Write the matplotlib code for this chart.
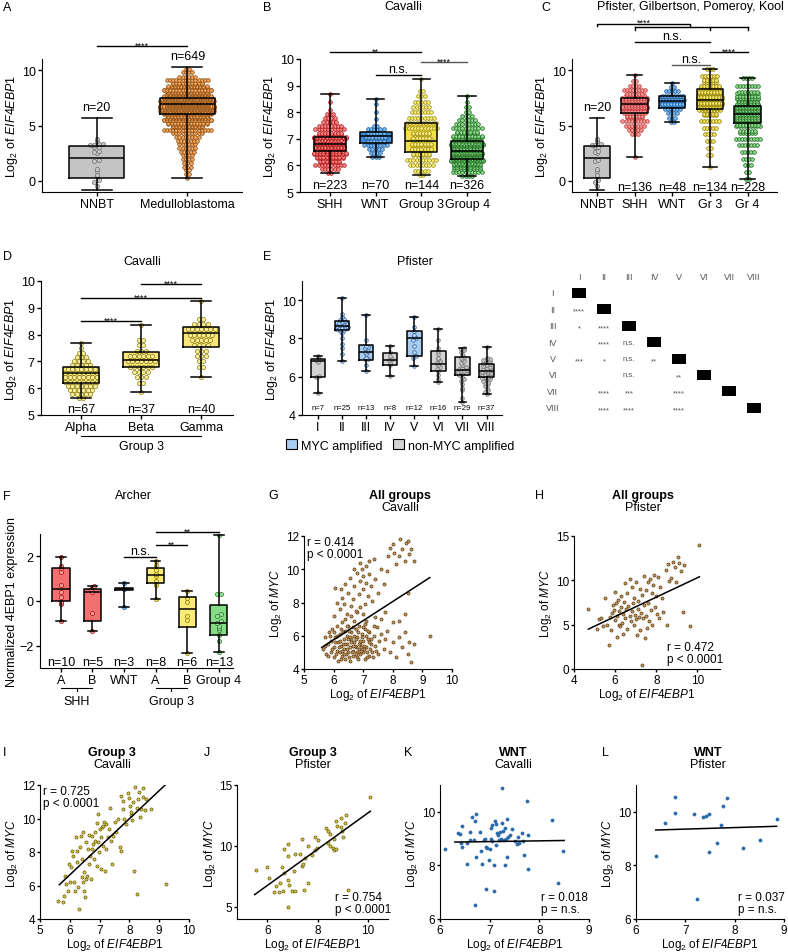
import matplotlib

matplotlib.use("Agg")
import matplotlib.pyplot as plt
import numpy as np
from matplotlib.patches import Patch

plt.rcParams["font.family"] = ["Liberation Sans", "DejaVu Sans"]
plt.rcParams["mathtext.fontset"] = "custom"
plt.rcParams["mathtext.rm"] = "Liberation Sans"
plt.rcParams["mathtext.it"] = "Liberation Sans:italic"
plt.rcParams["mathtext.bf"] = "Liberation Sans:bold"

W, H = 788, 953
YLAB = r"Log$_2$ of $\mathit{EIF4EBP1}$"
MYCLAB = r"Log$_2$ of $\mathit{MYC}$"

# ---------------- A: NNBT vs medulloblastoma ----------------
A_cats = ["NNBT", "Medulloblastoma"]
A_q1, A_med, A_q3 = [0.3, 6.0], [2.1, 6.9], [3.15, 7.5]
A_lo, A_hi = [-0.8, 0.3], [5.7, 10.3]
A_n = ["n=20", "n=649"]
A_nnbt = [3.8, 3.6, 3.3, 3.3, 3.2, 3.2, 3.1, 3.1, 2.7, 2.6, 2.5, 1.9, 1.8, 1.1, 0.9, 0.5, 0.4, 0.1, -0.1, -0.5]
A_mb_lv = [0.3, 0.6, 1.0, 1.3, 1.6, 2.0, 2.3, 2.6, 3.0, 3.3, 3.6, 4.0, 4.3, 4.6, 4.9, 5.2, 5.5, 5.8, 6.1, 6.4,
           6.7, 7.0, 7.3, 7.6, 7.9, 8.2, 8.5, 8.8, 9.1, 9.4, 9.8, 10.1]
A_mb_ct = [1, 2, 2, 3, 3, 4, 4, 5, 6, 6, 7, 8, 10, 16, 20, 26, 32, 40, 48, 52,
           54, 56, 52, 48, 40, 32, 26, 20, 14, 6, 4, 2]

# ---------------- B: Cavalli subgroups ----------------
B_cats = ["SHH", "WNT", "Group 3", "Group 4"]
B_q1, B_med, B_q3 = [6.55, 6.85, 6.5, 6.25], [6.8, 7.1, 6.9, 6.55], [7.05, 7.25, 7.6, 6.9]
B_lo, B_hi = [5.7, 6.3, 5.65, 5.6], [8.7, 8.5, 9.25, 8.6]
B_n = ["n=223", "n=70", "n=144", "n=326"]
B_lv = [
    [5.7, 5.85, 6.0, 6.15, 6.3, 6.45, 6.6, 6.75, 6.9, 7.05, 7.2, 7.35, 7.5, 7.65, 7.8, 7.95, 8.1, 8.4, 8.7],
    [6.3, 6.45, 6.6, 6.75, 6.9, 7.05, 7.2, 7.35, 7.5, 7.75, 8.0, 8.3, 8.5],
    [5.65, 5.8, 6.0, 6.2, 6.4, 6.6, 6.8, 7.0, 7.2, 7.4, 7.6, 7.8, 8.0, 8.2, 8.4, 8.6, 8.8, 9.25],
    [5.6, 5.75, 5.9, 6.05, 6.2, 6.35, 6.5, 6.65, 6.8, 6.95, 7.1, 7.25, 7.4, 7.55, 7.7, 7.85, 8.0, 8.2, 8.4, 8.6],
]
B_ct = [
    [2, 6, 10, 14, 18, 22, 26, 28, 26, 22, 16, 10, 8, 5, 4, 3, 1, 1, 1],
    [3, 4, 5, 8, 12, 14, 12, 6, 2, 1, 1, 1, 1],
    [2, 5, 8, 10, 12, 14, 14, 13, 12, 11, 10, 9, 7, 6, 5, 3, 2, 1],
    [4, 10, 18, 26, 32, 36, 38, 36, 32, 26, 20, 14, 10, 8, 6, 4, 2, 2, 1, 1],
]

# ---------------- C: Pfister, Gilbertson, Pomeroy, Kool ----------------
C_cats = ["NNBT", "SHH", "WNT", "Gr 3", "Gr 4"]
C_q1, C_med, C_q3 = [0.3, 6.1, 6.6, 6.5, 5.2], [2.1, 6.9, 7.2, 7.3, 6.0], [3.15, 7.5, 7.7, 8.3, 6.8]
C_lo, C_hi = [-0.8, 2.2, 5.3, 1.3, 0.2], [5.7, 9.6, 8.8, 10.1, 9.3]
C_n = ["n=20", "n=136", "n=48", "n=134", "n=228"]
C_lv = [
    [2.2, 4.2, 4.6, 5.0, 5.4, 5.8, 6.2, 6.6, 7.0, 7.4, 7.8, 8.2, 8.6, 9.0, 9.6],
    [5.3, 5.7, 6.1, 6.5, 6.9, 7.3, 7.7, 8.1, 8.5, 8.8],
    [1.3, 2.3, 3.0, 3.6, 4.2, 4.8, 5.4, 6.0, 6.5, 7.0, 7.5, 8.0, 8.5, 9.0, 9.5, 10.1],
    [0.2, 0.8, 1.4, 2.0, 2.6, 3.2, 3.8, 4.4, 5.0, 5.5, 6.0, 6.5, 7.0, 7.5, 8.0, 8.6, 9.3],
]
C_ct = [
    [1, 3, 5, 7, 9, 12, 15, 18, 20, 18, 13, 8, 4, 2, 1],
    [2, 3, 4, 6, 8, 9, 8, 5, 2, 1],
    [1, 2, 2, 3, 4, 5, 7, 10, 15, 18, 18, 16, 14, 10, 6, 3],
    [2, 2, 3, 4, 5, 7, 9, 12, 17, 24, 30, 32, 30, 24, 15, 8, 4],
]

# ---------------- D: Cavalli group 3 subtypes ----------------
D_cats = ["Alpha", "Beta", "Gamma"]
D_q1, D_med, D_q3 = [6.2, 6.8, 7.55], [6.55, 7.05, 8.05], [6.8, 7.35, 8.3]
D_lo, D_hi = [5.65, 5.85, 6.4], [7.7, 8.35, 9.25]
D_n = ["n=67", "n=37", "n=40"]
D_lv = [
    [5.65, 5.8, 5.95, 6.1, 6.25, 6.4, 6.55, 6.7, 6.85, 7.0, 7.15, 7.3, 7.5, 7.7],
    [5.85, 6.2, 6.4, 6.6, 6.8, 7.0, 7.2, 7.4, 7.6, 7.8, 8.35],
    [6.4, 6.8, 7.0, 7.2, 7.4, 7.6, 7.8, 8.0, 8.2, 8.4, 8.6, 9.25],
]
D_ct = [
    [2, 5, 6, 7, 8, 8, 8, 7, 5, 4, 3, 2, 1, 1],
    [1, 2, 3, 4, 6, 7, 6, 3, 2, 2, 1],
    [1, 2, 2, 3, 3, 4, 5, 6, 7, 4, 2, 1],
]

# ---------------- E: Pfister subtypes I-VIII ----------------
E_cats = ["I", "II", "III", "IV", "V", "VI", "VII", "VIII"]
E_myc = [False, True, True, False, True, False, False, False]
E_q1 = [6.0, 8.45, 6.85, 6.6, 7.1, 6.3, 6.1, 6.0]
E_med = [6.8, 8.65, 7.3, 6.85, 8.0, 6.65, 6.35, 6.3]
E_q3 = [6.9, 8.9, 7.65, 7.25, 8.4, 7.35, 7.05, 6.65]
E_lo = [5.15, 6.8, 6.3, 6.05, 6.55, 5.7, 4.7, 5.1]
E_hi = [7.1, 10.1, 9.2, 7.6, 9.1, 8.5, 7.5, 7.55]
E_n = ["n=7", "n=25", "n=13", "n=8", "n=12", "n=16", "n=29", "n=37"]
E_vals = [
    [7.1, 6.95, 6.85, 6.75, 6.05, 6.0, 5.15],
    [10.1, 9.3, 9.1, 9.0, 8.95, 8.9, 8.85, 8.8, 8.75, 8.7, 8.7, 8.65, 8.6, 8.6, 8.55, 8.5, 8.5, 8.45,
     8.4, 8.3, 8.0, 7.7, 7.5, 7.2, 6.8],
    [9.2, 7.9, 7.6, 7.55, 7.5, 7.35, 7.3, 7.2, 7.0, 6.95, 6.9, 6.6, 6.3],
    [7.6, 7.3, 7.1, 6.9, 6.85, 6.7, 6.6, 6.05],
    [9.1, 8.6, 8.4, 8.2, 8.1, 8.0, 7.9, 7.6, 7.3, 7.1, 7.0, 6.55],
    [8.5, 7.9, 7.5, 7.35, 7.2, 7.0, 6.9, 6.8, 6.7, 6.6, 6.5, 6.4, 6.3, 6.1, 5.9, 5.7],
    [7.5, 7.45, 7.4, 7.3, 7.2, 7.05, 7.0, 6.9, 6.8, 6.7, 6.6, 6.5, 6.45, 6.4, 6.35, 6.3, 6.3, 6.25,
     6.2, 6.15, 6.1, 6.0, 5.9, 5.8, 5.6, 5.4, 5.3, 4.9, 4.7],
    [7.55, 7.0, 6.95, 6.9, 6.85, 6.8, 6.75, 6.7, 6.65, 6.6, 6.55, 6.5, 6.45, 6.4, 6.35, 6.3, 6.3, 6.25,
     6.2, 6.2, 6.15, 6.1, 6.05, 6.0, 6.0, 5.95, 5.9, 5.85, 5.8, 5.7, 5.6, 5.5, 5.4, 5.3, 5.2, 5.1, 5.65],
]

# pairwise significance table for E
M_row = [1, 2, 2, 3, 3, 4, 4, 4, 4, 5, 5, 6, 6, 6, 7, 7, 7]
M_col = [0, 0, 1, 1, 2, 0, 1, 2, 3, 2, 4, 1, 2, 4, 1, 2, 4]
M_txt = ["****", "*", "****", "****", "n.s.", "***", "*", "n.s.", "**", "n.s.", "**",
         "****", "***", "****", "****", "****", "****"]

# ---------------- F: Archer ----------------
F_cats = ["A", "B", "WNT", "A", "B", "Group 4"]
F_q1 = [0.02, -0.9, 0.48, 0.8, -1.15, -1.5]
F_med = [0.55, 0.4, 0.55, 1.15, -0.35, -1.0]
F_q3 = [1.5, 0.55, 0.6, 1.5, 0.2, -0.2]
F_lo = [-0.9, -1.35, -0.25, 0.1, -2.35, -2.3]
F_hi = [1.95, 0.65, 0.8, 1.8, 0.45, 2.95]
F_n = ["n=10", "n=5", "n=3", "n=8", "n=6", "n=13"]
F_vals = [
    [1.95, 1.55, 1.5, 1.3, 0.7, 0.4, 0.2, -0.05, -0.15, -0.9],
    [0.65, 0.55, 0.4, -0.55, -1.35],
    [0.8, 0.55, -0.25],
    [1.8, 1.6, 1.4, 1.2, 1.1, 0.9, 0.7, 0.1],
    [0.45, 0.15, -0.05, -0.65, -0.85, -2.35],
    [2.95, 0.3, 0.3, -0.6, -0.65, -0.9, -1.0, -1.1, -1.2, -1.3, -1.5, -1.8, -2.3],
]

# ---------------- G-L: EIF4EBP1 vs MYC scatter ----------------
G_xy = np.array([
    [5.65, 5.2], [5.7, 5.9], [5.75, 4.9], [5.8, 5.5], [5.85, 6.2], [5.9, 5.0], [5.9, 5.7], [5.95, 6.4],
    [6.0, 4.7], [6.0, 5.3], [6.05, 5.9], [6.1, 6.6], [6.1, 5.1], [6.15, 4.5], [6.15, 5.6], [6.2, 6.1],
    [6.2, 5.0], [6.25, 5.4], [6.3, 6.8], [6.3, 4.8], [6.35, 5.8], [6.35, 5.2], [6.4, 6.3], [6.4, 4.6],
    [6.45, 5.5], [6.45, 6.0], [6.5, 5.0], [6.5, 6.6], [6.55, 5.3], [6.55, 4.5], [6.6, 5.8], [6.6, 6.2],
    [6.65, 5.1], [6.65, 4.8], [6.7, 5.6], [6.7, 6.9], [6.75, 5.3], [6.75, 6.4], [6.8, 4.7], [6.8, 5.9],
    [6.85, 5.2], [6.85, 6.6], [6.9, 5.5], [6.9, 4.9], [6.95, 6.1], [7.0, 5.0], [7.0, 5.7], [7.05, 6.4],
    [7.05, 4.6], [7.1, 5.3], [7.1, 6.9], [7.15, 5.8], [7.2, 4.8], [7.2, 6.2], [7.25, 5.5], [7.3, 5.0],
    [7.35, 6.0], [7.4, 5.4], [7.45, 6.5], [7.5, 4.9], [7.55, 5.7], [7.6, 6.1], [7.7, 5.2], [7.75, 5.8],
    [7.8, 6.3], [7.9, 5.0], [8.0, 5.6], [8.1, 4.7], [8.2, 5.9], [8.3, 5.3], [8.4, 6.2], [8.5, 4.9],
    [8.55, 5.6], [8.6, 4.4], [8.7, 5.5], [9.25, 6.0], [8.0, 6.8], [7.6, 7.0],
    [6.05, 5.6], [6.12, 6.0], [6.22, 5.7], [6.28, 5.1], [6.33, 6.2], [6.38, 5.5], [6.42, 4.9], [6.48, 5.8],
    [6.52, 6.3], [6.58, 5.6], [6.62, 5.0], [6.68, 6.0], [6.72, 5.4], [6.78, 5.0], [6.82, 6.2], [6.88, 5.7],
    [6.92, 5.3], [6.98, 6.5], [7.02, 5.4], [7.08, 6.0], [7.12, 5.0], [7.18, 5.6],
    [5.72, 5.4], [5.82, 4.8], [5.88, 6.0], [5.96, 5.2], [6.02, 6.2], [6.08, 4.9], [6.18, 5.3], [6.24, 6.4],
    [6.26, 4.6], [6.32, 5.5], [6.36, 4.9], [6.44, 5.2], [6.46, 6.6], [6.52, 4.7], [6.56, 5.9], [6.64, 5.4],
    [6.66, 6.5], [6.74, 4.9], [6.76, 5.8], [6.84, 4.6], [6.86, 5.5], [6.94, 5.1], [6.96, 5.9], [7.04, 5.2],
    [7.06, 6.7], [7.14, 4.7], [7.16, 6.3], [7.22, 5.2], [7.28, 5.8], [7.32, 4.7], [7.38, 6.6], [7.42, 5.1],
    [6.6, 7.2], [6.8, 7.4], [7.0, 7.3], [6.4, 7.0], [6.9, 10.4], [7.2, 10.5], [6.7, 10.0], [7.4, 7.1],
    [6.0, 7.2], [6.05, 8.9], [6.1, 8.0], [6.2, 7.6], [6.25, 8.8], [6.3, 8.3], [6.35, 7.9], [6.4, 9.1],
    [6.45, 7.3], [6.5, 8.6], [6.55, 9.5], [6.6, 7.8], [6.65, 8.2], [6.7, 9.0], [6.75, 7.5], [6.8, 9.8],
    [6.85, 8.5], [6.9, 9.3], [6.9, 7.7], [6.95, 10.0], [7.0, 8.8], [7.0, 9.6], [7.05, 7.9], [7.1, 9.2],
    [7.1, 10.2], [7.15, 8.4], [7.2, 9.7], [7.25, 9.0], [7.3, 8.1], [7.35, 10.6], [7.4, 9.4], [7.5, 8.6],
    [7.6, 10.0], [7.7, 9.1], [7.75, 7.4], [7.8, 9.9], [7.85, 10.8], [7.9, 11.3], [8.0, 11.5], [8.05, 11.0],
    [8.1, 10.3], [8.2, 10.8], [8.25, 11.8], [8.3, 11.2], [8.4, 10.5], [8.45, 11.6], [8.5, 11.7], [8.55, 10.9],
    [8.6, 11.2], [8.7, 10.5], [8.5, 8.6], [8.4, 7.3], [8.2, 6.9],
])
H_xy = np.array([
    [4.7, 6.8], [5.1, 4.5], [5.2, 5.6], [5.3, 5.7], [5.4, 4.8], [5.5, 8.0], [5.6, 5.0], [5.7, 2.7],
    [5.75, 5.9], [5.8, 4.4], [5.85, 6.3], [5.9, 7.2], [5.95, 6.6], [6.0, 8.7], [6.0, 5.5], [6.05, 7.5],
    [6.1, 6.0], [6.1, 3.6], [6.15, 7.8], [6.2, 5.0], [6.2, 6.5], [6.25, 4.8], [6.3, 7.0], [6.3, 8.2],
    [6.35, 5.2], [6.4, 6.2], [6.4, 3.9], [6.45, 7.6], [6.5, 9.7], [6.5, 5.8], [6.55, 6.8], [6.6, 8.6],
    [6.6, 4.5], [6.65, 7.1], [6.7, 6.0], [6.7, 10.2], [6.75, 5.4], [6.8, 9.2], [6.8, 6.5], [6.85, 7.4],
    [6.9, 5.0], [6.9, 8.0], [6.95, 6.1], [7.0, 5.6], [7.0, 9.8], [7.05, 3.8], [7.1, 6.8], [7.1, 7.7],
    [7.15, 5.9], [7.2, 9.0], [7.2, 4.4], [7.25, 6.3], [7.3, 0.4], [7.3, 8.4], [7.35, 5.7], [7.4, 10.5],
    [7.4, 7.2], [7.45, 3.5], [7.5, 8.9], [7.5, 6.0], [7.55, 4.6], [7.6, 9.8], [7.6, 7.5], [7.65, 5.4],
    [7.7, 10.1], [7.75, 6.6], [7.8, 8.6], [7.8, 5.0], [7.85, 9.5], [7.9, 10.6], [7.95, 7.0], [8.0, 8.2],
    [8.05, 6.2], [8.1, 10.4], [8.15, 5.8], [8.2, 9.3], [8.3, 8.0], [8.35, 6.4], [8.45, 11.2], [8.5, 5.0],
    [8.55, 11.8], [8.6, 9.9], [8.7, 10.3], [8.8, 12.1], [8.9, 11.5], [8.95, 9.8], [9.05, 12.6], [9.1, 12.0],
    [9.2, 11.0], [9.3, 6.4], [9.35, 11.7], [9.65, 4.8], [10.1, 14.0],
])
I_xy = np.array([
    [5.61, 5.09], [5.78, 5.0], [5.81, 5.35], [5.84, 6.55], [5.87, 6.09], [5.95, 5.69], [6.0, 6.2], [5.97, 7.28],
    [6.04, 7.08], [6.09, 8.08], [6.12, 7.78], [6.14, 6.2], [6.17, 5.7], [6.2, 8.88], [6.23, 8.08], [6.25, 7.42],
    [6.26, 5.89], [6.31, 4.6], [6.34, 8.28], [6.37, 8.98], [6.4, 7.58], [6.41, 6.49], [6.43, 6.2], [6.45, 9.18],
    [6.47, 5.69], [6.48, 6.79], [6.51, 5.29], [6.54, 6.39], [6.56, 8.58], [6.58, 6.59], [6.62, 8.18], [6.63, 9.04],
    [6.65, 7.28], [6.67, 7.78], [6.7, 6.39], [6.73, 8.98], [6.75, 8.18], [6.79, 8.48], [6.82, 7.58], [6.84, 8.68],
    [6.86, 9.18], [6.9, 7.18], [6.92, 9.73], [6.94, 10.27], [6.96, 8.58], [6.99, 7.98], [7.01, 9.38], [7.04, 6.98],
    [7.06, 8.88], [7.09, 9.48], [7.1, 8.38], [7.13, 9.58], [7.15, 9.77], [7.18, 6.89], [7.21, 9.68], [7.23, 8.18],
    [7.27, 8.88], [7.31, 9.38], [7.34, 10.63], [7.38, 8.68], [7.4, 7.28], [7.46, 8.98], [7.51, 9.77], [7.54, 9.18],
    [7.62, 9.97], [7.68, 8.28], [7.71, 8.08], [7.73, 11.32], [7.77, 11.06], [7.79, 10.57], [7.82, 9.97], [7.88, 9.68],
    [7.94, 11.52], [7.97, 11.2], [8.01, 10.77], [8.05, 10.21], [8.07, 10.41], [8.1, 9.91], [8.13, 10.96], [8.16, 6.89],
    [8.2, 11.86], [8.24, 5.49], [8.26, 10.61], [8.29, 11.16], [8.33, 11.56], [8.35, 10.07], [8.4, 10.57], [8.44, 11.8],
    [8.46, 11.3], [8.52, 10.53], [8.55, 11.16], [8.71, 10.57], [9.22, 6.09],
])
J_xy = np.array([
    [5.54, 7.99], [6.0, 8.26], [6.08, 7.38], [6.33, 6.74], [6.26, 6.2], [6.46, 6.2], [6.52, 6.97], [6.59, 8.3],
    [6.66, 7.8], [6.66, 9.78], [6.63, 6.3], [6.82, 10.19], [6.82, 9.17], [6.82, 7.24], [6.85, 6.82], [6.82, 4.97],
    [7.0, 6.3], [7.05, 7.93], [7.11, 9.37], [7.11, 6.3], [7.31, 9.3], [7.38, 8.35], [7.38, 10.6], [7.44, 8.49],
    [7.47, 6.42], [7.51, 9.04], [7.64, 10.0], [7.64, 6.93], [7.77, 9.26], [7.9, 10.74], [7.9, 9.67], [8.03, 10.5],
    [7.97, 9.86], [8.33, 11.5], [8.42, 10.22], [8.42, 11.23], [8.49, 10.95], [8.49, 10.0], [8.62, 9.86], [8.66, 9.67],
    [8.66, 10.55], [8.75, 12.05], [8.79, 11.64], [8.75, 9.72], [8.92, 12.33], [8.95, 11.58], [8.97, 11.23],
    [9.01, 10.74], [9.08, 11.86], [9.14, 12.52], [9.21, 6.42], [10.1, 13.98],
])
K_xy = np.array([
    [6.1, 8.6], [6.37, 9.22], [6.4, 9.18], [6.45, 9.48], [6.42, 8.85], [6.45, 8.7], [6.55, 8.05], [6.6, 9.25],
    [6.65, 9.82], [6.7, 9.65], [6.73, 9.93], [6.68, 8.95], [6.72, 8.3], [6.7, 6.52], [6.8, 9.25], [6.83, 8.55],
    [6.85, 8.05], [6.88, 8.95], [6.9, 9.0], [6.92, 8.7], [6.93, 7.12], [6.95, 8.65], [6.98, 8.2], [7.0, 8.6],
    [7.02, 9.0], [7.03, 9.4], [7.05, 9.5], [7.05, 8.9], [7.08, 7.05], [7.08, 8.0], [7.1, 9.65], [7.12, 8.75],
    [7.13, 9.55], [7.15, 9.2], [7.17, 9.15], [7.18, 8.95], [7.2, 9.25], [7.22, 9.0], [7.25, 10.88], [7.25, 9.6],
    [7.27, 9.3], [7.28, 8.95], [7.3, 8.0], [7.3, 9.4], [7.33, 8.98], [7.35, 9.75], [7.35, 8.3], [7.37, 9.05],
    [7.4, 9.15], [7.45, 9.35], [7.5, 8.9], [7.55, 8.78], [7.57, 9.05], [7.6, 8.85], [7.65, 9.2], [7.68, 8.9],
    [7.7, 8.4], [7.75, 10.42], [7.77, 9.12], [7.77, 7.85], [8.25, 9.68], [8.37, 7.35], [8.48, 8.52],
    [6.55, 8.85], [6.6, 8.95],
])
L_xy = np.array([
    [6.4, 8.35], [6.58, 9.6], [6.8, 10.55], [6.8, 9.95], [7.17, 9.9], [7.35, 9.8], [7.42, 9.85], [7.48, 9.9],
    [7.47, 8.5], [7.65, 8.85], [7.73, 9.5], [7.77, 10.2], [7.85, 10.5], [8.17, 8.65], [8.52, 8.95], [8.85, 9.75],
    [7.23, 6.75],
])
# regression lines: slope, intercept, x from, x to
fits = {
    "G": (1.15, -1.14, 5.6, 9.25),
    "H": (1.093, -0.64, 4.7, 10.1),
    "I": (1.676, -3.42, 5.65, 9.2),
    "J": (1.489, -2.19, 5.5, 10.1),
    "K": (0.027, 8.70, 6.3, 8.5),
    "L": (0.057, 8.955, 6.4, 8.85),
}
stat_txt = {
    "G": "r = 0.414\np < 0.0001", "H": "r = 0.472\np < 0.0001",
    "I": "r = 0.725\np < 0.0001", "J": "r = 0.754\np < 0.0001",
    "K": "r = 0.018\np = n.s.", "L": "r = 0.037\np = n.s.",
}

GRAY, GRAY_F, GRAY_E = "#c4c4c4", "#c8c8c8", "#6e6e6e"

fig = plt.figure(figsize=(W / 100, H / 100), dpi=100)


def px_axes(x0, y0, x1, y1):
    return fig.add_axes([x0 / W, 1 - y1 / H, (x1 - x0) / W, (y1 - y0) / H])


def ftext(x, y, s, **kw):
    kw.setdefault("fontsize", 9)
    kw.setdefault("ha", "center")
    kw.setdefault("va", "center")
    fig.text(x / W, 1 - y / H, s, **kw)


def style(ax, fs=9):
    for sp in ("top", "right"):
        ax.spines[sp].set_visible(False)
    ax.tick_params(labelsize=fs, width=1, length=3, pad=1.5)


def boxes(ax, q1, med, q3, lo, hi, colors, width):
    stats = [dict(q1=a, med=b, q3=c, whislo=d, whishi=e) for a, b, c, d, e in zip(q1, med, q3, lo, hi)]
    common = dict(positions=np.arange(len(stats)), widths=width, capwidths=width * 0.55, showfliers=False)
    off = dict(linewidth=0)
    filled = ax.bxp(stats, patch_artist=True, zorder=1, boxprops=off, whiskerprops=off,
                    capprops=off, medianprops=off, manage_ticks=False, **common)
    for p, c in zip(filled["boxes"], colors):
        p.set_facecolor(c)
    line = dict(color="black", linewidth=1.1)
    ax.bxp(stats, zorder=4, boxprops=line, whiskerprops=line, capprops=line, medianprops=line,
           manage_ticks=False, **common)


def swarm(ax, vals, pos, dx, half, step, face, edge, s=7, maxn=None, dyrow=0.0):
    v = np.sort(np.asarray(vals, float))
    keys = np.round(v / step).astype(int)
    xs, ys = [], []
    for k in np.unique(keys):
        grp = v[keys == k]
        nrow = 1 if maxn is None else int(np.ceil(len(grp) / maxn))
        for r in range(nrow):
            sub = grp[r::nrow]
            m = len(sub)
            sp = dx if m < 2 else min(dx, 2 * half / (m - 1))
            xs.extend(pos + (np.arange(m) - (m - 1) / 2) * sp)
            ys.extend(sub + (r - (nrow - 1) / 2) * dyrow)
    ax.scatter(xs, ys, s=s, facecolor=face, edgecolor=edge, linewidths=0.5, zorder=3)


def sig(ax, x1, x2, y, s, color="black"):
    stars = "*" in s
    ax.plot([x1, x2], [y, y], color=color, lw=1, clip_on=False)
    ax.annotate(s, xy=((x1 + x2) / 2, y), xytext=(0, -2.5 if stars else 0), textcoords="offset points",
                ha="center", va="bottom", fontsize=6.5 if stars else 9, annotation_clip=False)


def xcats(ax, cats, fs=9):
    ax.set_xticks(np.arange(len(cats)))
    ax.set_xticklabels(cats, fontsize=fs)


# ---------------- A ----------------
ax = px_axes(42, 60, 242, 193)
style(ax)
boxes(ax, A_q1, A_med, A_q3, A_lo, A_hi, [GRAY, "#f0a050"], 0.6)
swarm(ax, A_nnbt, 0, 0.05, 0.25, 0.3, GRAY_F, GRAY_E, s=9)
swarm(ax, np.repeat(A_mb_lv, A_mb_ct), 1, 0.035, 0.3, 0.01, "#f2a55a", "#8a4a10", maxn=18, dyrow=0.08)
ax.set_xlim(-0.6, 1.6)
ax.set_ylim(-1, 11)
ax.set_yticks([0, 5, 10])
xcats(ax, A_cats)
ax.set_ylabel(YLAB, fontsize=9, labelpad=1)
ax.text(0, 6.7, A_n[0], ha="center", va="center", fontsize=9)
ax.text(1, 11.25, A_n[1], ha="center", va="center", fontsize=9, clip_on=False)
sig(ax, 0, 1, 12.16, "****")

# ---------------- B ----------------
ax = px_axes(300, 60, 490, 193)
style(ax)
B_box = ["#e62328", "#3a8fd8", "#f5e04a", "#2a9a3a"]
B_face = ["#f58a8a", "#7ab8ef", "#f7eb7a", "#8fd88f"]
B_edge = ["#b01010", "#1a5a9a", "#9a8a10", "#1a6a1a"]
boxes(ax, B_q1, B_med, B_q3, B_lo, B_hi, B_box, 0.7)
for i in range(4):
    swarm(ax, np.repeat(B_lv[i], B_ct[i]), i, 0.07, 0.35, 0.01, B_face[i], B_edge[i], maxn=11, dyrow=0.045)
    ax.text(i, 5.25, B_n[i], ha="center", va="center", fontsize=9)
ax.set_xlim(-0.65, 3.5)
ax.set_ylim(5, 10)
xcats(ax, B_cats)
ax.set_ylabel(YLAB, fontsize=9, labelpad=1)
sig(ax, 0, 2, 10.26, "**")
sig(ax, 1, 2, 9.4, "n.s.")
sig(ax, 2, 3, 9.89, "****", color="#555555")

# ---------------- C ----------------
ax = px_axes(572, 60, 777, 193)
style(ax)
C_box = [GRAY, "#f27a7a", "#3a8fd8", "#f2dc48", "#3aa44a"]
C_face = ["#f59a9a", "#7ab8ef", "#f4e46a", "#8fd88f"]
C_edge = ["#c03030", "#1a5a9a", "#8a7a00", "#1a6a1a"]
boxes(ax, C_q1, C_med, C_q3, C_lo, C_hi, C_box, 0.7)
swarm(ax, A_nnbt, 0, 0.08, 0.3, 0.3, GRAY_F, GRAY_E, s=9)
for i in range(4):
    swarm(ax, np.repeat(C_lv[i], C_ct[i]), i + 1, 0.08, 0.33, 0.01, C_face[i], C_edge[i], maxn=9, dyrow=0.13)
ax.text(0, 6.7, C_n[0], ha="center", va="center", fontsize=9)
for i in range(1, 5):
    ax.text(i, -0.55, C_n[i], ha="center", va="center", fontsize=9)
ax.set_xlim(-0.66, 4.78)
ax.set_ylim(-1, 11)
ax.set_yticks([0, 5, 10])
xcats(ax, C_cats)
ax.set_ylabel(YLAB, fontsize=9, labelpad=1)
# NNBT vs all MB bracket
ax.plot([0, 0, 2.47, 2.47], [13.96, 14.2, 14.2, 13.9], color="black", lw=1, clip_on=False)
ax.plot([1, 4], [13.9, 13.9], color="black", lw=1, clip_on=False)
for xb in (1, 3, 4):
    ax.plot([xb, xb], [13.9, 13.6], color="black", lw=1, clip_on=False)
ax.annotate("****", xy=(1.25, 14.2), xytext=(0, -2.5), textcoords="offset points", ha="center",
            va="bottom", fontsize=6.5, annotation_clip=False)
sig(ax, 1, 3, 12.5, "n.s.")
sig(ax, 3, 4, 11.6, "****")
sig(ax, 2, 3, 10.45, "n.s.", color="#555555")

# ---------------- D ----------------
ax = px_axes(41, 282, 233, 416)
style(ax)
boxes(ax, D_q1, D_med, D_q3, D_lo, D_hi, ["#fbe57a"] * 3, 0.6)
for i in range(3):
    swarm(ax, np.repeat(D_lv[i], D_ct[i]), i, 0.075, 0.3, 0.01, "#fcef9a", "#8a7a10", s=9, maxn=9, dyrow=0.05)
    ax.text(i, 5.22, D_n[i], ha="center", va="center", fontsize=9)
ax.set_xlim(-0.67, 2.53)
ax.set_ylim(5, 10)
xcats(ax, D_cats)
ax.set_ylabel(YLAB, fontsize=9, labelpad=1)
sig(ax, 1, 2, 9.89, "****")
sig(ax, 0, 2, 9.37, "****")
sig(ax, 0, 1, 8.5, "****")
ax.plot([0, 2], [4.22, 4.22], color="black", lw=0.8, clip_on=False)
ax.text(1, 3.84, "Group 3", ha="center", va="center", fontsize=9, clip_on=False)

# ---------------- E ----------------
ax = px_axes(302, 282, 502, 416)
style(ax)
E_blue, E_bface, E_bedge = "#a9cdf0", "#b8d8f5", "#30609a"
boxes(ax, E_q1, E_med, E_q3, E_lo, E_hi, [E_blue if m else "#d3d3d3" for m in E_myc], 0.6)
for i, vals in enumerate(E_vals):
    if E_myc[i]:
        swarm(ax, vals, i, 0.13, 0.28, 0.15, E_bface, E_bedge, s=7)
    else:
        swarm(ax, vals, i, 0.13, 0.28, 0.15, GRAY_F, GRAY_E, s=7)
    ax.text(i, 4.37, E_n[i], ha="center", va="center", fontsize=5.5)
ax.set_xlim(-0.66, 7.64)
ax.set_ylim(4, 11)
ax.set_yticks([4, 6, 8, 10])
xcats(ax, E_cats)
ax.set_ylabel(YLAB, fontsize=9, labelpad=1)
ax.legend([Patch(facecolor=E_blue, edgecolor="black", lw=0.8), Patch(facecolor="#d3d3d3", edgecolor="black", lw=0.8)],
          ["MYC amplified", "non-MYC amplified"], loc="upper left", bbox_to_anchor=(-0.08, -0.18), ncol=2,
          frameon=False, fontsize=9, handlelength=0.9, handleheight=0.9, handletextpad=0.3,
          columnspacing=0.8, borderaxespad=0, borderpad=0)

# significance matrix
axm = px_axes(541.5, 269.4, 766.5, 425.2)
axm.set_xlim(-1.5, 7.5)
axm.set_ylim(8, -1.5)
axm.axis("off")
idx = np.arange(len(E_cats))
for i, lab in enumerate(E_cats):
    axm.text(i, -1, lab, ha="center", va="center", fontsize=6.5, color="#555555")
    axm.text(-1.05, i, lab, ha="center", va="center", fontsize=6.5, color="#555555")
axm.bar(idx, 0.61, width=0.56, bottom=idx - 0.305, color="black")
for r, c, t in zip(M_row, M_col, M_txt):
    axm.text(c, r + (0.12 if "*" in t else 0), t, ha="center", va="center", fontsize=5.5, color="#555555")

# ---------------- F ----------------
ax = px_axes(40, 535, 233, 669)
style(ax)
F_box = ["#f27070", "#f27070", "white", "#fbec78", "#fbec78", "#86dc86"]
F_face = ["#f59a9a", "#f59a9a", "#7ab8ef", "#f4e46a", "#f4e46a", "#9ae09a"]
F_edge = ["#a01010", "#a01010", "#1a5a9a", "#8a7a00", "#8a7a00", "#2a7a2a"]
boxes(ax, F_q1, F_med, F_q3, F_lo, F_hi, F_box, 0.55)
for i, vals in enumerate(F_vals):
    swarm(ax, vals, i, 0.12, 0.25, 0.12, F_face[i], F_edge[i], s=9)
    ax.text(i, -2.73, F_n[i], ha="center", va="center", fontsize=9)
ax.set_xlim(-0.66, 5.45)
ax.set_ylim(-3, 3)
ax.set_yticks([-2, 0, 2])
xcats(ax, F_cats)
ax.set_ylabel("Normalized 4EBP1 expression", fontsize=9, labelpad=1)
sig(ax, 2, 3, 1.95, "n.s.")
sig(ax, 3, 4, 2.5, "**")
sig(ax, 3, 5, 3.1, "**")
for (a, b), lab in (((0, 1), "SHH"), ((3, 4), "Group 3")):
    ax.plot([a, b], [-3.9, -3.9], color="black", lw=0.8, clip_on=False)
    ax.plot([(a + b) / 2] * 2, [-3.9, -4.05], color="black", lw=0.8, clip_on=False)
    ax.text((a + b) / 2, -4.5, lab, ha="center", va="center", fontsize=9, clip_on=False)


# ---------------- G-L ----------------
def scatter_panel(box, xy, key, xlim, ylim, xt, yt, face, edge, stat_pos):
    ax = px_axes(*box)
    style(ax, 8.5)
    ax.tick_params(length=2.5, pad=1)
    ax.scatter(xy[:, 0], xy[:, 1], s=5, facecolor=face, edgecolor=edge, linewidths=0.5, zorder=3)
    m, b, x0, x1 = fits[key]
    ax.plot([x0, x1], [m * x0 + b, m * x1 + b], color="black", lw=1.1, zorder=4)
    ax.set_xlim(*xlim)
    ax.set_ylim(*ylim)
    ax.set_xticks(xt)
    ax.set_yticks(yt)
    ax.set_xlabel(YLAB, fontsize=8.5, labelpad=0)
    ax.set_ylabel(MYCLAB, fontsize=8.5, labelpad=1)
    tx, ty, va = stat_pos
    ax.text(tx, ty, stat_txt[key], transform=ax.transAxes, ha="left", va=va, fontsize=8.5, linespacing=1.0)
    return ax


scatter_panel((304, 537, 452, 670), G_xy, "G", (5, 10), (4, 12), [5, 6, 7, 8, 9, 10], [4, 6, 8, 10, 12],
              "#c89a60", "#5a3a10", (0.02, 1.0, "top"))
scatter_panel((574, 537, 720, 670), H_xy, "H", (4, 11.1), (0, 15), [4, 6, 8, 10], [0, 5, 10, 15],
              "#c89a60", "#5a3a10", (0.64, 0.03, "bottom"))
scatter_panel((40, 786, 189, 920), I_xy, "I", (5, 10), (4, 12), [5, 6, 7, 8, 9, 10], [4, 6, 8, 10, 12],
              "#d4c84a", "#6a5a00", (0.02, 1.0, "top"))
scatter_panel((237, 786, 388, 920), J_xy, "J", (4.8, 10.8), (4, 15), [6, 8, 10], [5, 10, 15],
              "#d4c84a", "#6a5a00", (0.65, 0.03, "bottom"))
scatter_panel((440, 786, 589, 920), K_xy, "K", (6, 9), (6, 11), [6, 7, 8, 9], [6, 8, 10],
              "#2a6aaa", "#2a6aaa", (0.68, 0.03, "bottom"))
scatter_panel((636, 786, 784, 920), L_xy, "L", (6, 9), (6, 11), [6, 7, 8, 9], [6, 8, 10],
              "#2a6aaa", "#2a6aaa", (0.69, 0.03, "bottom"))

# ---------------- titles and panel letters ----------------
ftext(403, 7, "Cavalli")
ftext(690, 7, "Pfister, Gilbertson, Pomeroy, Kool")
ftext(142, 262, "Cavalli")
ftext(415, 262, "Pfister")
ftext(133, 496, "Archer")
for x, y, top, bottom in ((400, 496, "All groups", "Cavalli"), (643, 496, "All groups", "Pfister"),
                          (112, 753, "Group 3", "Cavalli"), (313, 753, "Group 3", "Pfister"),
                          (513, 753, "WNT", "Cavalli"), (708, 753, "WNT", "Pfister")):
    ftext(x, y, top, fontweight="bold")
    ftext(x, y + 12.5, bottom)
for x, y, letter in ((3, 8, "A"), (263, 8, "B"), (541, 8, "C"), (3, 257, "D"), (263, 257, "E"),
                     (3, 497, "F"), (268, 496, "G"), (535, 496, "H"), (3, 753, "I"), (204, 753, "J"),
                     (404, 753, "K"), (602, 753, "L")):
    ftext(x, y, letter, ha="left")

fig.savefig("out.png", dpi=100)
